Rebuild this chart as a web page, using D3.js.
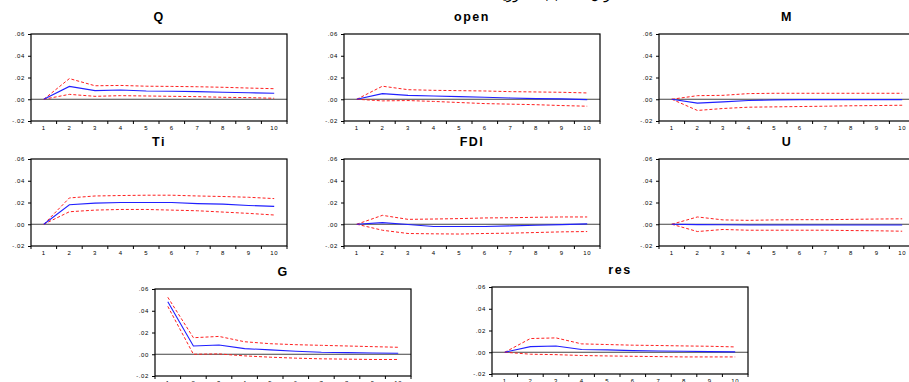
<!DOCTYPE html>
<html>
<head>
<meta charset="utf-8">
<script src="https://cdn.jsdelivr.net/npm/d3@7"></script>
<style>
  body { margin: 0; background: #fff; }
  svg { display: block; font-family: "Liberation Sans", Arial, sans-serif; }
</style>
</head>
<body>
<div id="chart"></div>
<script>
const steps = [1, 2, 3, 4, 5, 6, 7, 8, 9, 10];
const names = ["Q", "open", "M", "Ti", "FDI", "U", "G", "res"];
const yTicks = [0.06, 0.04, 0.02, 0.00, -0.02];
const yTickLabels = [".06", ".04", ".02", ".00", "-.02"];

// impulse responses (blue)
const resp = [
  [0, .0118, .0079, .0085, .0076, .0073, .0070, .0064, .0060, .0055],
  [0, .0052, .0036, .0030, .0024, .0018, .0012, .0006, .0003, -.0003],
  [0, -.0036, -.0024, -.0012, -.0006, -.0003, -.0003, -.0003, -.0003, -.0003],
  [0, .0179, .0194, .0200, .0200, .0200, .0190, .0185, .0173, .0164],
  [0, .0015, -.0003, -.0020, -.0020, -.0020, -.0015, -.0009, -.0003, .0003],
  [0, -.0003, -.0005, -.0007, -.0007, -.0007, -.0007, -.0007, -.0007, -.0007],
  [.0482, .0076, .0085, .0052, .0040, .0027, .0018, .0015, .0012, .0009],
  [0, .0052, .0058, .0025, .0022, .0015, .0012, .0009, .0006, .0003]
];
// +2 S.E. (red dashed)
const upper = [
  [0, .0190, .0124, .0127, .0120, .0118, .0115, .0110, .0103, .0097],
  [0, .0120, .0088, .0082, .0079, .0076, .0070, .0067, .0064, .0058],
  [0, .0033, .0036, .0052, .0055, .0055, .0055, .0055, .0055, .0055],
  [0, .0242, .0260, .0264, .0267, .0267, .0260, .0255, .0248, .0236],
  [0, .0082, .0045, .0048, .0052, .0058, .0060, .0064, .0067, .0067],
  [0, .0067, .0040, .0036, .0040, .0042, .0042, .0045, .0048, .0050],
  [.0524, .0152, .0164, .0115, .0097, .0088, .0082, .0076, .0070, .0064],
  [0, .0126, .0132, .0077, .0071, .0065, .0062, .0058, .0055, .0049]
];
// -2 S.E. (red dashed)
const lower = [
  [0, .0045, .0027, .0033, .0030, .0027, .0024, .0018, .0015, .0009],
  [0, -.0015, -.0012, -.0020, -.0030, -.0040, -.0045, -.0050, -.0058, -.0064],
  [0, -.0103, -.0085, -.0073, -.0070, -.0067, -.0064, -.0060, -.0058, -.0055],
  [0, .0115, .0130, .0136, .0136, .0130, .0124, .0112, .0100, .0085],
  [0, -.0055, -.0085, -.0088, -.0090, -.0085, -.0082, -.0076, -.0070, -.0067],
  [0, -.0067, -.0048, -.0055, -.0055, -.0055, -.0055, -.0058, -.0060, -.0064],
  [.0440, .0000, .0003, -.0015, -.0027, -.0036, -.0042, -.0045, -.0048, -.0048],
  [0, -.0018, -.0022, -.0030, -.0034, -.0037, -.0040, -.0043, -.0043, -.0043]
];

// panel placement (left, top of the plot frame)
const panelPos = [
  [31, 34], [344, 34], [659, 34],
  [31, 159], [344, 159], [659, 159],
  [155, 289], [492, 287]
];

const W = 909, H = 382;
const pw = 256, ph = 87;

const svg = d3.select("#chart").append("svg")
    .attr("width", W)
    .attr("height", H);

// heading above the figure, cut off by the top edge (only its lowest dots show)
svg.append("text")
    .attr("x", 556)
    .attr("y", -1.5)
    .attr("text-anchor", "middle")
    .style("font-size", "13px")
    .style("font-family", "DejaVu Sans")
    .text("دوال الاستجابة الفورية");

const x = d3.scaleBand().domain(steps).range([0, pw]);
const y = d3.scaleLinear().domain([-0.02, 0.06]).range([ph, 0]);

const line = d3.line()
    .x((d, i) => x(steps[i]) + x.bandwidth() / 2)
    .y(d => y(d));

names.forEach(function(name, k) {
    const g = svg.append("g")
        .attr("transform", `translate(${panelPos[k][0]},${panelPos[k][1]})`);

    // title
    g.append("text")
        .attr("x", pw / 2)
        .attr("y", -13)
        .attr("text-anchor", "middle")
        .style("font-size", "12.5px")
        .style("font-weight", "bold")
        .style("letter-spacing", "1.5px")
        .text(name);

    // y axis
    const ya = g.append("g")
        .call(d3.axisLeft(y).tickValues(yTicks).tickSize(3).tickPadding(3)
            .tickFormat((d, i) => yTickLabels[i]));
    ya.select(".domain").remove();
    ya.selectAll("line").attr("stroke", "#000");
    ya.selectAll("text").style("font-size", "6px")
        .style("letter-spacing", "0.6px").attr("fill", "#000");

    // x axis: ticks at band edges, labels at band centers
    const xa = g.append("g").attr("transform", `translate(0,${ph})`);
    xa.selectAll("line")
        .data(d3.range(0, 11))
        .enter().append("line")
        .attr("x1", d => d * x.step())
        .attr("x2", d => d * x.step())
        .attr("y1", 0)
        .attr("y2", 3)
        .attr("stroke", "#000");
    xa.selectAll("text")
        .data(steps)
        .enter().append("text")
        .attr("x", d => x(d) + x.bandwidth() / 2)
        .attr("y", 8.5)
        .attr("text-anchor", "middle")
        .style("font-size", "6px")
        .style("letter-spacing", "0.6px")
        .text(d => d);

    // zero line
    g.append("line")
        .attr("x1", 0).attr("x2", pw)
        .attr("y1", y(0)).attr("y2", y(0))
        .attr("stroke", "#444")
        .attr("stroke-width", 1);

    // confidence bands
    [upper[k], lower[k]].forEach(function(s) {
        g.append("path")
            .datum(s)
            .attr("d", line)
            .attr("fill", "none")
            .attr("stroke", "#ff2020")
            .attr("stroke-width", 1)
            .attr("stroke-dasharray", "3,2");
    });

    // response
    g.append("path")
        .datum(resp[k])
        .attr("d", line)
        .attr("fill", "none")
        .attr("stroke", "#2020ff")
        .attr("stroke-width", 1.1);

    // frame
    g.append("rect")
        .attr("x", 0).attr("y", 0)
        .attr("width", pw).attr("height", ph)
        .attr("fill", "none")
        .attr("stroke", "#000")
        .attr("stroke-width", 1.2);
});
</script>
</body>
</html>
